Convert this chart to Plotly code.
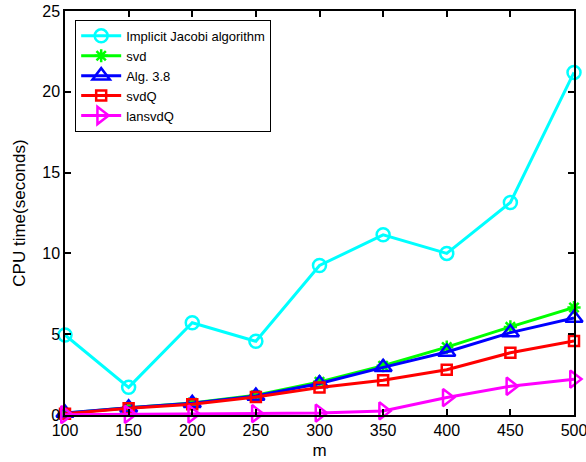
import plotly.graph_objects as go

m = [100, 150, 200, 250, 300, 350, 400, 450, 500]
jacobi = [4.95, 1.71, 5.71, 4.56, 9.25, 11.15, 10.0, 13.15, 21.2]
svd = [0.1, 0.45, 0.75, 1.22, 2.05, 3.05, 4.2, 5.45, 6.65]
alg38 = [0.12, 0.45, 0.72, 1.18, 1.95, 2.95, 3.9, 5.1, 6.0]
svdq = [0.08, 0.42, 0.66, 1.12, 1.7, 2.15, 2.8, 3.85, 4.58]
lansvdq = [0.02, 0.04, 0.06, 0.08, 0.12, 0.25, 1.08, 1.78, 2.22]

series = [
    ("Implicit Jacobi algorithm", jacobi, "#00ffff", "circle-open", 13),
    ("svd", svd, "#00ff00", "asterisk-open", 11),
    ("Alg. 3.8", alg38, "#0000ff", "triangle-up-open", 15),
    ("svdQ", svdq, "#ff0000", "square-open", 10),
    ("lansvdQ", lansvdq, "#ff00ff", "triangle-right-open", 15),
]

fig = go.Figure()
for name, ys, col, sym, sz in series:
    fig.add_trace(go.Scatter(
        x=m, y=ys, name=name, mode="lines+markers",
        line=dict(color=col, width=3),
        marker=dict(symbol=sym, size=sz, color=col, line=dict(color=col, width=2.5)),
        cliponaxis=False,
    ))

axis_common = dict(
    showgrid=False, zeroline=False, showline=True, linecolor="#000000", linewidth=1.5,
    mirror="allticks", ticks="inside", ticklen=6, tickcolor="#000000", tickwidth=1.5,
    automargin=False, ticklabeloverflow="allow",
    tickfont=dict(family="Liberation Sans, Arial", size=16, color="black"),
)

fig.update_layout(
    template="none",
    width=586, height=462,
    margin=dict(l=65, r=12, t=11, b=47, autoexpand=False),
    paper_bgcolor="white", plot_bgcolor="white",
    font=dict(family="Liberation Sans, Arial", color="black"),
    xaxis=dict(range=[100, 500], tickvals=[100, 150, 200, 250, 300, 350, 400, 450, 500],
               title=dict(text="m", font=dict(size=17), standoff=6), **axis_common),
    yaxis=dict(range=[0, 25], tickvals=[0, 5, 10, 15, 20, 25],
               title=dict(text="CPU time(seconds)", font=dict(size=17), standoff=12), **axis_common),
    legend=dict(x=0.02, y=0.978, xanchor="left", yanchor="top",
                bordercolor="black", borderwidth=1, bgcolor="white",
                font=dict(size=13, color="black"), tracegroupgap=0, itemwidth=40),
)

fig.write_html("out.html", config={"displayModeBar": False},
               post_script="document.body.style.margin='0';document.body.style.overflow='hidden';")
